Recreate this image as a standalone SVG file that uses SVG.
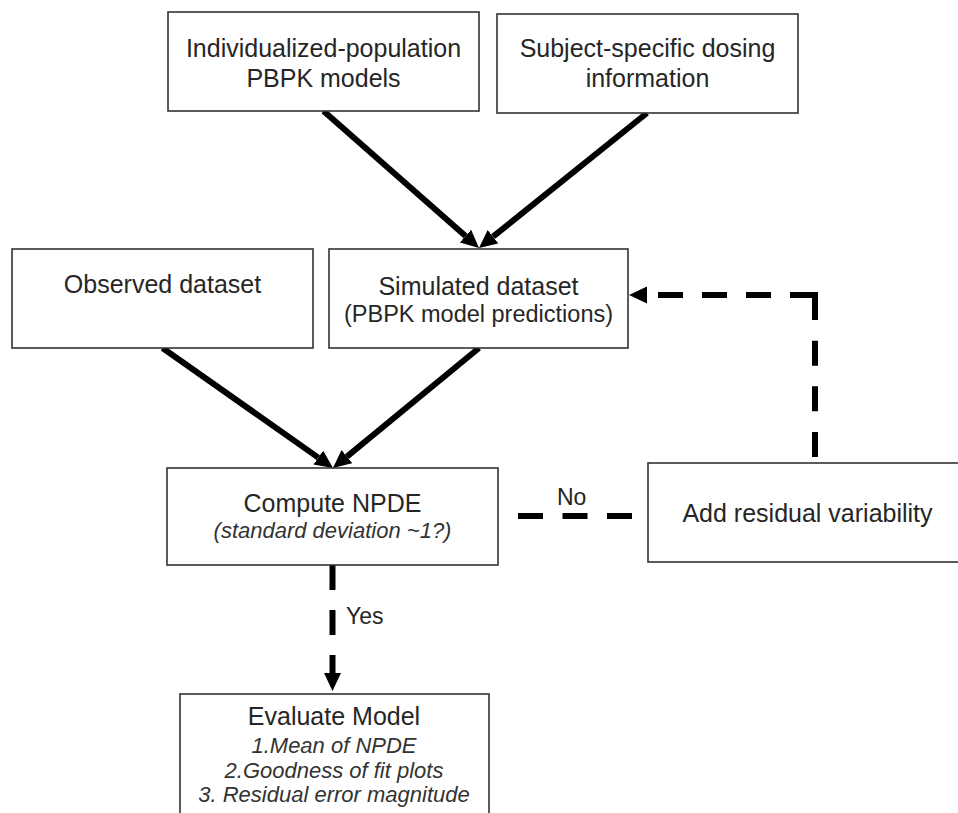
<svg xmlns="http://www.w3.org/2000/svg" width="958" height="813" viewBox="0 0 958 813">
  <style>
    .box { fill: #ffffff; stroke: #333333; stroke-width: 1.6; }
    .t { font-family: "Liberation Sans", Arial, sans-serif; font-size: 25px; fill: #262626; text-anchor: middle; }
    .ti { font-family: "Liberation Sans", Arial, sans-serif; font-size: 22px; font-style: italic; fill: #333333; text-anchor: middle; }
    .lbl { font-family: "Liberation Sans", Arial, sans-serif; font-size: 23px; fill: #262626; }
    .solid { fill: none; stroke: #000000; stroke-width: 6; marker-end: url(#ah); }
    .dash { fill: none; stroke: #000000; stroke-width: 6; }
  </style>
  <defs>
    <marker id="ah" markerUnits="userSpaceOnUse" markerWidth="20" markerHeight="18" refX="0" refY="8.5" orient="auto" viewBox="0 0 20 18">
      <path d="M0,0 L18,8.5 L0,17 z" fill="#000000"/>
    </marker>
  </defs>
  <rect width="958" height="813" fill="#ffffff"/>

  <g id="connectors">
    <line class="solid" x1="323.5" y1="111" x2="465.5" y2="236.1"/>
    <line class="solid" x1="647" y1="113" x2="493" y2="236.7"/>
    <line class="solid" x1="162.5" y1="348" x2="318.3" y2="457.6"/>
    <line class="solid" x1="479" y1="348" x2="346.9" y2="456.6"/>
    <path class="dash" d="M332.5,565 V673" stroke-dasharray="25 20" marker-end="url(#ah)"/>
    <path class="dash" d="M518,516 H632" stroke-dasharray="25 19.5"/>
    <path class="dash" d="M815,457 V295" stroke-dasharray="25 20.67"/>
    <path class="dash" d="M818,295 H647" stroke-dasharray="28 19 25 19 25 19 25 19" marker-end="url(#ah)"/>
    <text class="lbl" x="346" y="624">Yes</text>
    <text class="lbl" x="557" y="505">No</text>
  </g>

  <g id="node-pbpk">
    <rect class="box" x="168" y="12" width="311" height="99"/>
    <text class="t" x="323.5" y="57">Individualized-population</text>
    <text class="t" x="323.5" y="87">PBPK models</text>
  </g>

  <g id="node-dosing">
    <rect class="box" x="497" y="14" width="301" height="99"/>
    <text class="t" x="647.5" y="57">Subject-specific dosing</text>
    <text class="t" x="647.5" y="87">information</text>
  </g>

  <g id="node-observed">
    <rect class="box" x="12" y="249" width="301" height="99"/>
    <text class="t" x="162.5" y="293">Observed dataset</text>
  </g>

  <g id="node-simulated">
    <rect class="box" x="329" y="249" width="299" height="99"/>
    <text class="t" x="478.5" y="295">Simulated dataset</text>
    <text class="t" x="478.5" y="322" style="font-size:23.5px">(PBPK model predictions)</text>
  </g>

  <g id="node-npde">
    <rect class="box" x="167" y="468" width="331" height="97"/>
    <text class="t" x="332.5" y="512">Compute NPDE</text>
    <text class="ti" x="332.5" y="538">(standard deviation ~1?)</text>
  </g>

  <g id="node-residual">
    <rect class="box" x="648" y="463" width="319" height="99"/>
    <text class="t" x="807.5" y="522">Add residual variability</text>
  </g>

  <g id="node-evaluate">
    <rect class="box" x="180" y="694" width="309" height="140"/>
    <text class="t" x="334" y="725">Evaluate Model</text>
    <text class="ti" x="334" y="753">1.Mean of NPDE</text>
    <text class="ti" x="334" y="778">2.Goodness of fit plots</text>
    <text class="ti" x="334" y="802">3. Residual error magnitude</text>
  </g>
</svg>
